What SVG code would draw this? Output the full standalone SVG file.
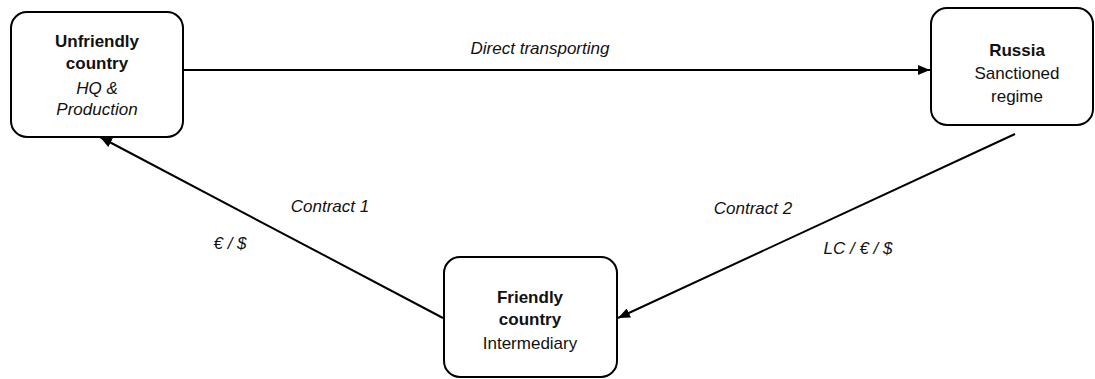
<svg xmlns="http://www.w3.org/2000/svg" width="1095" height="379" viewBox="0 0 1095 379">
<style>
.box{fill:#fff;stroke:#000;stroke-width:2}
.t{font-family:"Liberation Sans",Arial,sans-serif;font-size:17px;fill:#111;text-anchor:middle}
.b{font-weight:bold}
.i{font-style:italic}
.edge{stroke:#000;stroke-width:2;fill:none;marker-end:url(#ah)}
</style>
<defs>
<marker id="ah" viewBox="0 0 12 10" refX="12" refY="5" markerWidth="12" markerHeight="10" markerUnits="userSpaceOnUse" orient="auto">
<path d="M0,0 L12,5 L0,10 Z" fill="#000"/>
</marker>
</defs>
<rect width="1095" height="379" fill="#fff"/>
<g id="connectors">
<line class="edge" x1="183" y1="70" x2="930" y2="70"/>
<line class="edge" x1="443" y1="318" x2="100" y2="137"/>
<line class="edge" x1="1015" y1="134" x2="618" y2="318"/>
<text class="t i" x="540" y="54">Direct transporting</text>
<text class="t i" x="330" y="212">Contract 1</text>
<text class="t i" x="230" y="249">€ / $</text>
<text class="t i" x="753" y="214">Contract 2</text>
<text class="t i" x="858" y="254">LC / € / $</text>
</g>
<g id="unfriendly">
<rect class="box" x="11" y="12" width="172" height="125" rx="16"/>
<text class="t b" x="97" y="47">Unfriendly</text>
<text class="t b" x="97" y="69">country</text>
<text class="t i" x="97" y="94">HQ &amp;</text>
<text class="t i" x="97" y="115">Production</text>
</g>
<g id="russia">
<rect class="box" x="931" y="8" width="162" height="117" rx="16"/>
<text class="t b" x="1017" y="56">Russia</text>
<text class="t" x="1017" y="79">Sanctioned</text>
<text class="t" x="1017" y="102">regime</text>
</g>
<g id="friendly">
<rect class="box" x="444" y="257" width="173" height="120" rx="16"/>
<text class="t b" x="530" y="303">Friendly</text>
<text class="t b" x="530" y="325">country</text>
<text class="t" x="530" y="349">Intermediary</text>
</g>
</svg>
